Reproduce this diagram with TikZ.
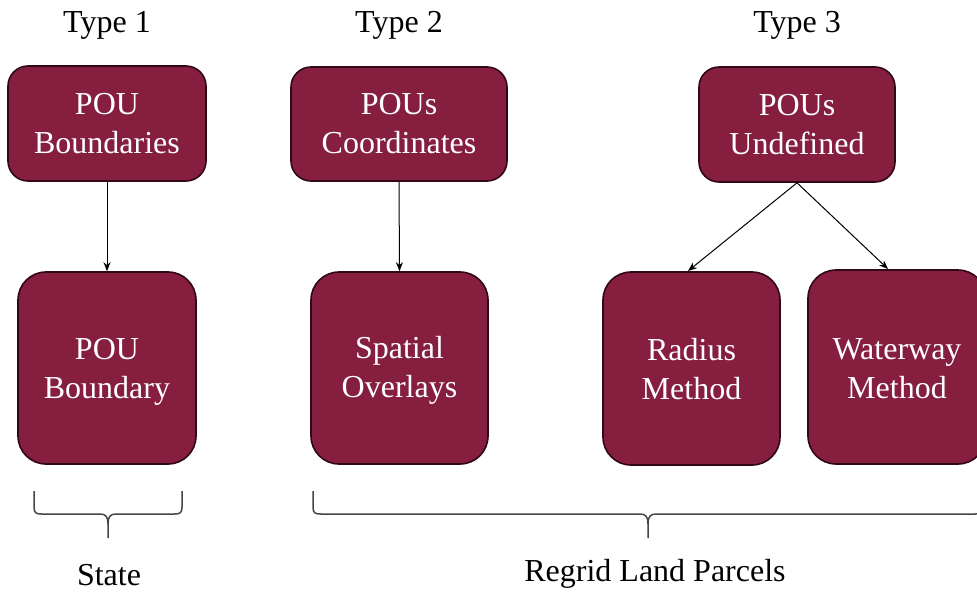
\documentclass[tikz,border=0pt]{standalone}
\usepackage{fontspec}
\setmainfont{Liberation Serif}
\usetikzlibrary{arrows.meta}
\definecolor{maroon}{RGB}{133,30,63}
\definecolor{maroonedge}{RGB}{50,8,22}
\definecolor{bracegray}{RGB}{70,70,70}
\begin{document}
\begin{tikzpicture}[x=1pt,y=-1pt,
  box/.style={draw=maroonedge, line width=1.6pt, fill=maroon, text=white,
    align=center, font=\fontsize{32}{39}\selectfont, inner sep=0pt, anchor=center},
  topbox/.style={box, rounded corners=20pt},
  botbox/.style={box, rounded corners=28pt},
  lbl/.style={font=\fontsize{32}{39}\selectfont, text=black, inner sep=0pt},
  conn/.style={draw=black, line width=1pt, -{Stealth[length=9pt,width=7pt]}},
  bracestyle/.style={draw=bracegray, line width=1.5pt}
]
\clip (0,0) rectangle (977,592);
\fill[white] (0,0) rectangle (977,592);

% headings
\node[lbl] (t1) at (107,25) {Type 1};
\node[lbl] (t2) at (399,25) {Type 2};
\node[lbl] (t3) at (797,25) {Type 3};

% top boxes
\node[topbox, minimum width=198pt, minimum height=115pt] (b1t) at (107,123.5) {POU\\Boundaries};
\node[topbox, minimum width=216pt, minimum height=114pt] (b2t) at (399,124) {POUs\\Coordinates};
\node[topbox, minimum width=196pt, minimum height=115pt] (b3t) at (797,124.5) {POUs\\Undefined};

% bottom boxes
\node[botbox, minimum width=178pt, minimum height=192pt] (b1b) at (107,368) {\rule{0pt}{29pt}POU\\Boundary};
\node[botbox, minimum width=177pt, minimum height=192pt] (b2b) at (399.5,368) {\rule{0pt}{27pt}Spatial\\Overlays};
\node[botbox, minimum width=177pt, minimum height=193pt] (b3l) at (691.5,368.5) {\rule{0pt}{24pt}Radius\\Method};
\node[botbox, minimum width=178pt, minimum height=194pt] (b3r) at (897,367) {\rule{0pt}{25pt}Waterway\\Method};

% connectors
\draw[conn] (b1t.south) -- (b1b.north);
\draw[conn] (b2t.south) -- (b2b.north);
\coordinate (rl) at (688,271);
\coordinate (rr) at (888,269);
\draw[conn] (b3t.south) -- (rl);
\draw[conn] (b3t.south) -- (rr);

% braces
\draw[bracestyle] (34,491) -- (34,507) .. controls (34,513) and (36,514) .. (42,514)
  -- (100,514) .. controls (106,514) and (108,517) .. (108,524) -- (108,538);
\draw[bracestyle] (182,491) -- (182,507) .. controls (182,513) and (180,514) .. (174,514)
  -- (116,514) .. controls (110,514) and (108,517) .. (108,524);

\draw[bracestyle] (313,491) -- (313,507) .. controls (313,513) and (315,514) .. (321,514)
  -- (640,514) .. controls (646,514) and (648,517) .. (648,524) -- (648,538);
\draw[bracestyle] (983,491) -- (983,507) .. controls (983,513) and (981,514) .. (975,514)
  -- (656,514) .. controls (650,514) and (648,517) .. (648,524);

% brace labels
\node[lbl] (s1) at (109,575) {State};
\node[lbl] (s2) at (655,574) {Regrid Land Parcels};
\end{tikzpicture}
\end{document}
